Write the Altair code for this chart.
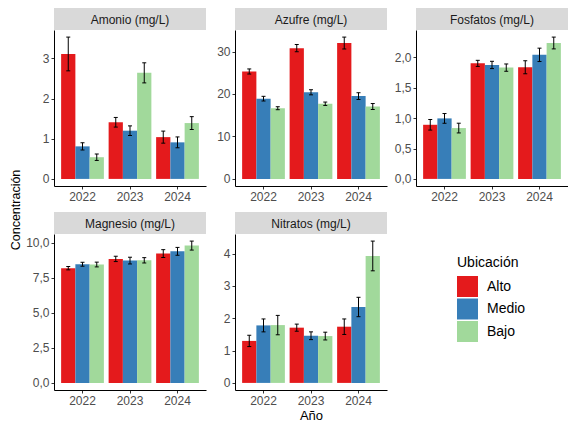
import altair as alt
import pandas as pd

years = ["2022", "2023", "2024"]
locations = ["Alto", "Medio", "Bajo"]
colors = ["#E41A1C", "#377EB8", "#A1D99B"]

panel_names = ["Amonio (mg/L)", "Azufre (mg/L)", "Fosfatos (mg/L)",
               "Magnesio (mg/L)", "Nitratos (mg/L)"]

# order: 2022 Alto, Medio, Bajo; 2023 ...; 2024 ...
amonio_media = [3.11, 0.81, 0.54, 1.41, 1.20, 2.64, 1.04, 0.91, 1.39]
amonio_ee = [0.42, 0.09, 0.08, 0.12, 0.12, 0.25, 0.15, 0.135, 0.16]
azufre_media = [25.3, 18.9, 16.65, 30.8, 20.4, 17.7, 32.0, 19.5, 17.05]
azufre_ee = [0.6, 0.55, 0.35, 0.85, 0.6, 0.4, 1.4, 0.8, 0.7]
fosfatos_media = [0.89, 0.995, 0.836, 1.90, 1.874, 1.83, 1.836, 2.04, 2.235]
fosfatos_ee = [0.087, 0.08, 0.08, 0.05, 0.06, 0.06, 0.107, 0.11, 0.097]
magnesio_media = [8.18, 8.46, 8.44, 8.84, 8.72, 8.74, 9.22, 9.38, 9.79]
magnesio_ee = [0.12, 0.14, 0.17, 0.19, 0.24, 0.19, 0.28, 0.28, 0.32]
nitratos_media = [1.30, 1.78, 1.79, 1.71, 1.46, 1.45, 1.74, 2.35, 3.93]
nitratos_ee = [0.175, 0.2, 0.3, 0.11, 0.12, 0.12, 0.24, 0.3, 0.46]

amonio_ticks = [0, 1, 2, 3]
azufre_ticks = [0, 10, 20, 30]
fosfatos_ticks = [0, 0.5, 1.0, 1.5, 2.0]
magnesio_ticks = [0, 2.5, 5.0, 7.5, 10.0]
nitratos_ticks = [0, 1, 2, 3, 4]

FONT = "Liberation Sans"
W = 152
H = 156
STRIP = 22

INT_FMT = "format(datum.value, 'd')"
DEC_FMT = "replace(format(datum.value, '.1f'), '.', ',')"


def make_panel(name, media, ee, ticks, label_expr, x_title=None, extra=None):
    rows = []
    i = 0
    for y in years:
        for loc in locations:
            rows.append({"Año": y, "Ubicación": loc, "media": media[i],
                         "lo": media[i] - ee[i], "hi": media[i] + ee[i]})
            i += 1
    df = pd.DataFrame(rows)
    top = max(r["hi"] for r in rows)
    dom = [-0.05 * top, 1.05 * top]
    yscale = alt.Scale(domain=dom, nice=False, zero=False)

    xaxis = alt.Axis(labelAngle=0, title=x_title, titleFontSize=13,
                     titleColor="black", titleFontWeight="normal",
                     titlePadding=3)
    base = alt.Chart(df).encode(
        x=alt.X("Año:N", sort=years,
                scale=alt.Scale(paddingInner=0.1, paddingOuter=0.15),
                axis=xaxis),
        xOffset=alt.XOffset("Ubicación:N", sort=locations,
                            scale=alt.Scale(paddingInner=0, paddingOuter=0)),
    )
    yaxis = alt.Axis(values=ticks, tickCount=len(ticks), labelExpr=label_expr,
                     labelOverlap=False, labelFlush=False, title=None)
    bars = base.mark_bar().encode(
        y=alt.Y("media:Q", scale=yscale, axis=yaxis),
        y2=alt.datum(0),
        color=alt.Color("Ubicación:N", sort=locations,
                        scale=alt.Scale(domain=locations, range=colors),
                        legend=alt.Legend(
                            title="Ubicación", orient="none", direction="vertical",
                            legendX=403, legendY=226,
                            titleFontSize=14, titleFont=FONT, titleColor="black",
                            titleFontWeight="normal", titlePadding=6,
                            labelFontSize=14, labelFont=FONT, labelColor="black",
                            symbolType="square", symbolSize=441,
                            symbolStrokeWidth=0, symbolOpacity=1,
                            rowPadding=1.5, labelOffset=9)),
    )
    rule = base.mark_rule(color="black", strokeWidth=1).encode(
        y=alt.Y("lo:Q", axis=yaxis), y2="hi:Q")
    cap_lo = base.mark_tick(color="black", size=4, thickness=1, opacity=1).encode(
        y=alt.Y("lo:Q", axis=yaxis))
    cap_hi = base.mark_tick(color="black", size=4, thickness=1, opacity=1).encode(
        y=alt.Y("hi:Q", axis=yaxis))

    sdf = pd.DataFrame({"panel": [name]})
    strip_rect = alt.Chart(sdf).mark_rect(color="#D9D9D9").encode(
        x=alt.value(0), x2=alt.value(W), y=alt.value(-STRIP), y2=alt.value(0))
    strip_text = alt.Chart(sdf).mark_text(
        font=FONT, fontSize=12, color="#1A1A1A", baseline="middle", align="center"
    ).encode(x=alt.value(W / 2), y=alt.value(-STRIP / 2 + 0.5), text="panel:N")

    layers = [strip_rect, strip_text, bars, rule, cap_lo, cap_hi]
    if extra is not None:
        layers.append(extra)
    return alt.layer(*layers).properties(width=W, height=H)


ytitle_df = pd.DataFrame({"t": ["Concentración"]})
ytitle = alt.Chart(ytitle_df).mark_text(
    font=FONT, fontSize=12.5, color="black", angle=270,
    baseline="middle", align="center"
).encode(x=alt.value(-38), y=alt.value(180), text="t:N")

p1 = make_panel(panel_names[0], amonio_media, amonio_ee, amonio_ticks, INT_FMT, extra=ytitle)
p2 = make_panel(panel_names[1], azufre_media, azufre_ee, azufre_ticks, INT_FMT)
p3 = make_panel(panel_names[2], fosfatos_media, fosfatos_ee, fosfatos_ticks, DEC_FMT)
p4 = make_panel(panel_names[3], magnesio_media, magnesio_ee, magnesio_ticks, DEC_FMT)
p5 = make_panel(panel_names[4], nitratos_media, nitratos_ee, nitratos_ticks, INT_FMT,
                x_title="Año")

chart = alt.concat(p1, p2, p3, p4, p5, columns=3,
                   spacing={"row": 48, "column": 29}, bounds="flush").properties(
    padding={"left": 2, "top": 0, "right": 0, "bottom": 0}
).configure_view(stroke=None).configure_axis(
    labelFont=FONT, labelFontSize=12, labelColor="#4D4D4D",
    titleFont=FONT, domainColor="black", domainWidth=1,
    tickColor="#333333", tickSize=3, tickWidth=1, labelPadding=2, grid=False
)

chart.save("out.html", embed_options={"renderer": "svg", "actions": False})
